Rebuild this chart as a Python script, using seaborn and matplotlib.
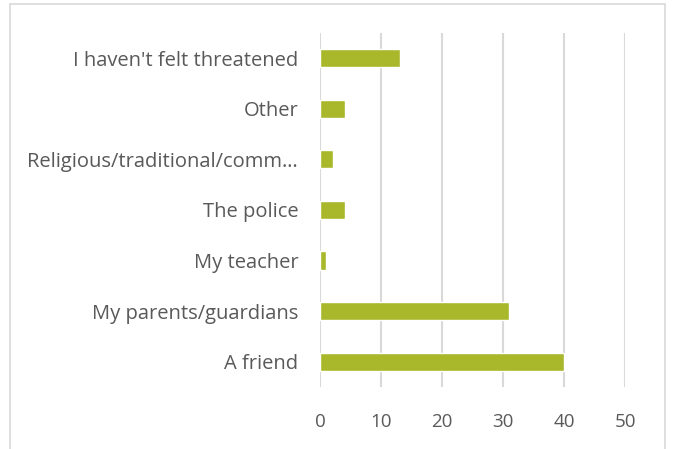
import matplotlib
matplotlib.use("Agg")
import matplotlib.pyplot as plt
import seaborn as sb
import pandas as pd
from matplotlib.patches import Rectangle

categories = ["I haven't felt threatened", "Other", "Religious/traditional/comm…",
              "The police", "My teacher", "My parents/guardians", "A friend"]
values = [13, 4, 2, 4, 1, 31, 40]
xticks = [0, 10, 20, 30, 40, 50]

df = pd.DataFrame({'cat': categories, 'val': values})

sb.set_style('white')
plt.rcParams['font.family'] = ['Open Sans', 'DejaVu Sans']

fig = plt.figure(figsize=(6.73, 4.49), dpi=100)
ax = fig.add_axes([0.476, 0.138, 0.453, 0.789])

sb.barplot(data=df, y='cat', x='val', orient='h', color='#A9B82B',
           width=0.36, saturation=1, ax=ax, zorder=3)

ax.set_xlim(0, 50)
ax.set_xticks(xticks)
ax.set_xlabel('')
ax.set_ylabel('')
ax.xaxis.grid(True, color='#D9D9D9', linewidth=1.5, zorder=0)
ax.set_axisbelow(True)
for s in ax.spines.values():
    s.set_visible(False)
ax.tick_params(axis='y', length=0, labelsize=14.5, labelcolor='#595959', pad=16)
ax.tick_params(axis='x', length=0, labelsize=13.5, labelcolor='#595959', pad=19)

fig.patches.append(Rectangle((0.015, -0.02), 0.973, 1.011, transform=fig.transFigure,
                             fill=False, edgecolor='#D9D9D9', linewidth=1.2))

fig.savefig('out.png', dpi=100)
